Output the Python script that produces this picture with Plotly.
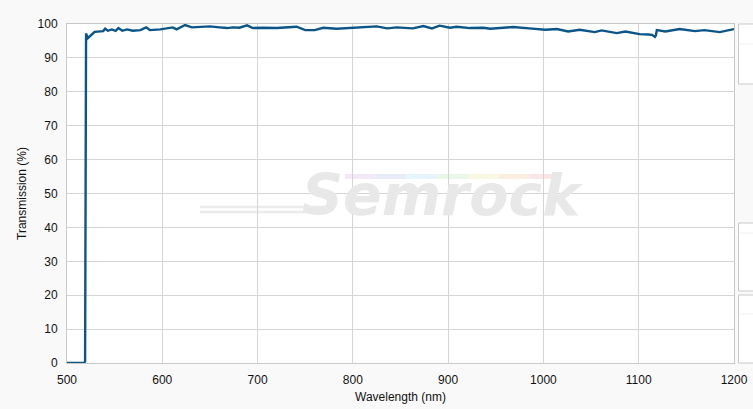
import plotly.graph_objects as go

wavelength = [500, 518, 519, 520, 521.7, 524, 529, 538, 540, 543, 547, 551, 554, 558, 563, 569, 577, 583, 587,
              598, 605, 611, 615, 620, 624, 631, 640, 650, 660, 668, 674, 681, 689, 695, 705, 720, 741, 750,
              760, 769, 783, 800, 812, 825, 836, 846, 863, 874, 883, 891, 902, 909, 923, 937, 944, 954, 968,
              985, 1002, 1014, 1026, 1038, 1054, 1061, 1077, 1086, 1101, 1110, 1114, 1117, 1118, 1119, 1128,
              1143, 1159, 1169, 1185, 1200]
transmission = [0, 0, 0.5, 97.2, 95.8, 96.5, 97.7, 97.9, 98.6, 98.0, 98.4, 98.0, 98.8, 98.0, 98.4, 98.0, 98.2,
                99.0, 98.2, 98.4, 98.8, 99.0, 98.4, 99.2, 99.7, 99.0, 99.1, 99.3, 99.0, 98.8, 99.0, 98.9, 99.6,
                98.8, 98.9, 98.8, 99.2, 98.2, 98.2, 98.9, 98.6, 98.9, 99.0, 99.3, 98.7, 99.0, 98.7, 99.4, 98.7,
                99.5, 98.9, 99.2, 98.8, 98.9, 98.6, 98.8, 99.1, 98.7, 98.3, 98.5, 97.8, 98.3, 97.6, 98.1, 97.3,
                97.8, 97.0, 96.9, 96.8, 96.2, 96.6, 98.2, 97.8, 98.5, 97.9, 98.2, 97.6, 98.5]
x_ticks = [500, 600, 700, 800, 900, 1000, 1100, 1200]
y_ticks = [0, 10, 20, 30, 40, 50, 60, 70, 80, 90, 100]

L, R, T, B = 67, 19, 24, 46
W, H = 753, 409
pw, ph = W - L - R, H - T - B

def px(x):
    return (x - L) / pw

def py(y):
    return (H - B - y) / ph

fig = go.Figure()
fig.add_trace(go.Scatter(x=wavelength, y=transmission, mode="lines",
                         line=dict(color="#0b5588", width=2.4), hoverinfo="skip"))

shapes = []
# watermark streaks
for yy in (207, 212):
    shapes.append(dict(type="line", xref="paper", yref="paper", x0=px(200), x1=px(325), y0=py(yy), y1=py(yy),
                       line=dict(color="#ebebeb", width=2.5), layer="below"))
rain = ["#f3e8f7", "#e8ecfa", "#e6f5fb", "#eaf8ea", "#f9f8e2", "#fbeede", "#fae6e6"]
seg = (560 - 345) / len(rain)
for i, c in enumerate(rain):
    shapes.append(dict(type="rect", xref="paper", yref="paper", x0=px(345 + i * seg), x1=px(345 + (i + 1) * seg),
                       y0=py(179), y1=py(174), line=dict(width=0), fillcolor=c, layer="below"))
# side panel boxes
for (t, m, b) in [(24, 44, 84), (223, 233, 291), (295, 314, 363)]:
    shapes.append(dict(type="rect", xref="paper", yref="paper", x0=px(738.5), x1=px(760), y0=py(b), y1=py(t),
                       line=dict(color="#c8c8c8", width=1), fillcolor="white"))
    shapes.append(dict(type="line", xref="paper", yref="paper", x0=px(739), x1=px(760), y0=py(m), y1=py(m),
                       line=dict(color="#f0f0f0", width=1)))

fig.add_annotation(text="Semrock", xref="paper", yref="paper", x=px(442), y=py(195), showarrow=False,
                   font=dict(family="DejaVu Sans", size=57, color="#e8e8e8", weight="bold", style="italic"))

fig.update_layout(
    width=W, height=H,
    margin=dict(l=L, r=R, t=T, b=B, pad=0, autoexpand=False),
    paper_bgcolor="#f9f9f9", plot_bgcolor="white",
    showlegend=False,
    shapes=shapes,
    font=dict(family="Liberation Sans, Arial", size=12, color="#111111"),
    xaxis=dict(range=[500, 1200], tickvals=x_ticks, showgrid=True, gridcolor="#d4d4d4", gridwidth=1,
               zeroline=False, showline=True, linecolor="#c8c8c8", mirror=True, automargin=False,
               ticks="outside", ticklen=6, tickcolor="rgba(0,0,0,0)",
               title=dict(text="Wavelength (nm)", standoff=6, font=dict(size=12)), tickfont=dict(size=12)),
    yaxis=dict(range=[0, 100], tickvals=y_ticks, showgrid=True, gridcolor="#d4d4d4", gridwidth=1,
               zeroline=False, showline=True, linecolor="#c8c8c8", mirror=True, automargin=False,
               ticks="outside", ticklen=6, tickcolor="rgba(0,0,0,0)",
               title=dict(text="Transmission (%)", standoff=8, font=dict(size=12)), tickfont=dict(size=12)),
)

fig.write_html("out.html", config={"displayModeBar": False},
               post_script="document.body.style.margin='0';document.body.style.overflow='hidden';")
